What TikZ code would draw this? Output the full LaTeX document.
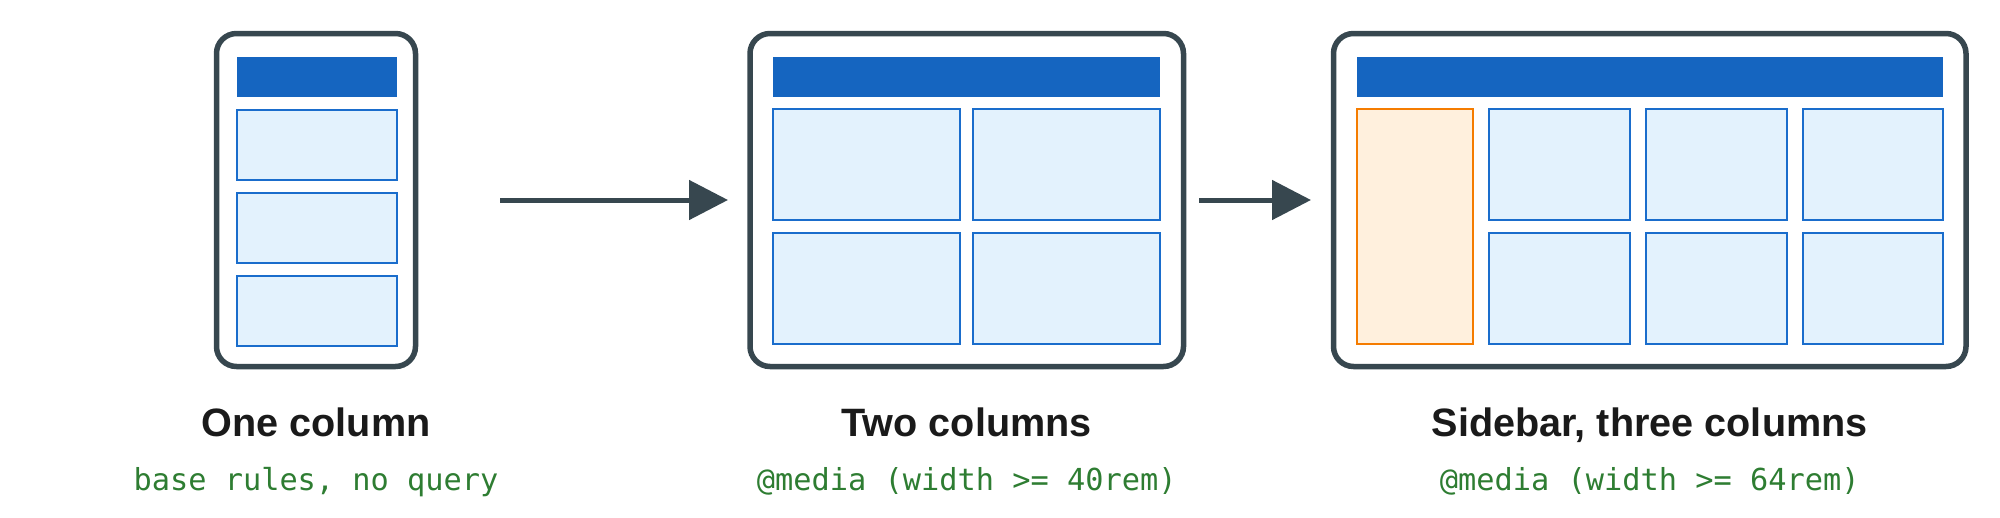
\documentclass[tikz,border=0pt]{standalone}
\usepackage{fontspec}
\setsansfont{Liberation Sans}
\setmonofont{DejaVu Sans Mono}
\usetikzlibrary{arrows.meta}
\usetikzlibrary{positioning}
\definecolor{slate}{HTML}{37474F}
\definecolor{barblue}{HTML}{1565C0}
\definecolor{cellblue}{HTML}{E3F2FD}
\definecolor{cellline}{HTML}{1A6DCC}
\definecolor{sidefill}{HTML}{FFF0DD}
\definecolor{sideline}{HTML}{F57C00}
\definecolor{titleink}{HTML}{1A1A1A}
\definecolor{queryink}{HTML}{2E7D32}
\tikzstyle{screen}=[draw=slate,fill=white,line width=5.5pt,rounded corners=20pt,inner sep=0pt,outer sep=0pt,minimum height=333pt]
\tikzstyle{header}=[fill=barblue]
\tikzstyle{cell}=[draw=cellline,fill=cellblue,line width=2pt]
\tikzstyle{sidecell}=[draw=sideline,fill=sidefill,line width=2pt]
\tikzstyle{flow}=[draw=slate,line width=5pt,-{Triangle[length=39pt,width=39pt]}]
\tikzstyle{title}=[anchor=base,inner sep=0pt,text=titleink,font=\sffamily\bfseries\fontsize{39.6}{44}\selectfont]
\tikzstyle{query}=[anchor=base,inner sep=0pt,text=queryink,font=\ttfamily\fontsize{30.3}{34}\selectfont]

\begin{document}
\begin{tikzpicture}[x=1pt,y=-1pt]
\useasboundingbox (0,0) rectangle (2000,517);

% the three screens
\node[screen,minimum width=199pt] (phone) at (316,200) {};
\node[screen,minimum width=433.5pt] (tablet) at (966.75,200) {};
\node[screen,minimum width=632.5pt] (desktop) at (1649.75,200) {};

% phone: header and stacked cells
\fill[header] (236.7,56.7) rectangle (396.7,96.7);
\foreach \y in {109.5,192.5,275.5}
  \draw[cell] (236.7,\y) rectangle ++(160,70);

% tablet: header and 2x2 grid
\fill[header] (773.3,56.7) rectangle (1159.5,96.7);
\foreach \x in {773.3,972.7}
  \foreach \y in {109.3,233.3}
    \draw[cell] (\x,\y) rectangle ++(186.8,110.7);

% desktop: header, sidebar and 3x2 grid
\fill[header] (1356.7,56.7) rectangle (1943.3,96.7);
\draw[sidecell] (1356.7,109.3) rectangle (1473.3,344);
\foreach \x in {1489.3,1646,1802.7}
  \foreach \y in {109.3,233.3}
    \draw[cell] (\x,\y) rectangle ++(140.7,110.7);

% arrows
\draw[flow,shorten <=84.5pt,shorten >=22pt] (phone.east) -- (tablet.west);
\draw[flow,shorten <=15.5pt,shorten >=22.5pt] (tablet.east) -- (desktop.west);

% captions
\node[title] (phone-title) at ([yshift=-70.2pt]phone.south) {One column};
\node[query] (phone-query) at ([yshift=-123.5pt]phone.south) {base rules, no query};
\node[title] (tablet-title) at ([yshift=-70.2pt]tablet.south) {Two columns};
\node[query] (tablet-query) at ([yshift=-123.5pt]tablet.south) {@media (width >= 40rem)};
\node[title] (desktop-title) at ([yshift=-70.2pt]desktop.south) {Sidebar, three columns};
\node[query] (desktop-query) at ([yshift=-123.5pt]desktop.south) {@media (width >= 64rem)};
\end{tikzpicture}
\end{document}
